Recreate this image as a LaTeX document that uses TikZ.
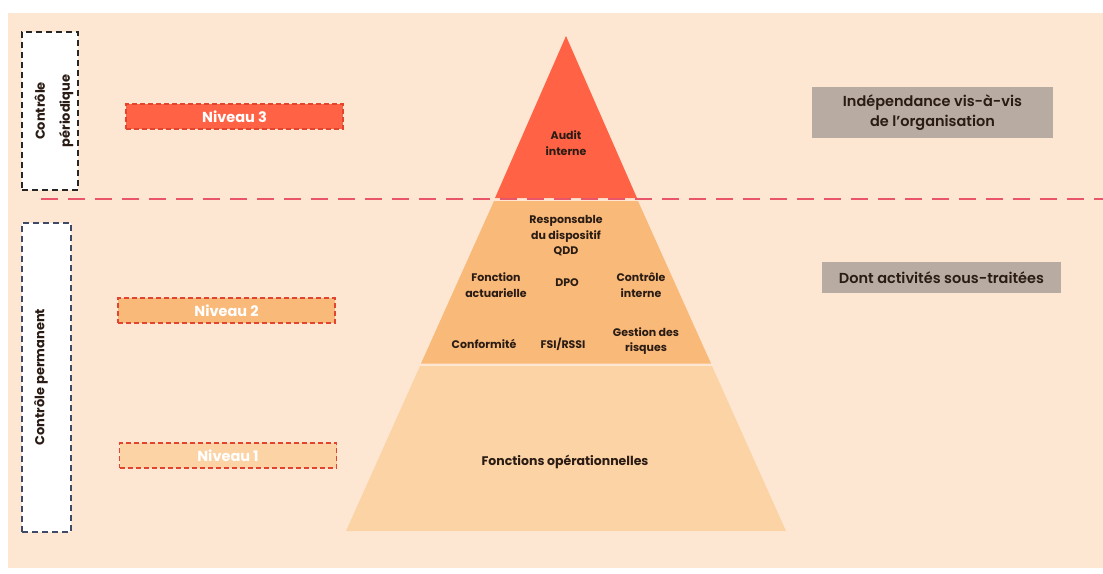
\documentclass[tikz,border=0pt]{standalone}
\usepackage{fontspec}
\setmainfont{Poppins}
\newfontfamily\popsemi{Poppins SemiBold}
\definecolor{peach}{HTML}{FDE7D3}
\definecolor{topc}{HTML}{FF6245}
\definecolor{midc}{HTML}{F9B979}
\definecolor{lowc}{HTML}{FCD3A5}
\definecolor{sepred}{HTML}{E9566A}
\definecolor{boxred}{HTML}{E2452E}
\definecolor{greyc}{HTML}{B7ABA2}
\definecolor{ink}{HTML}{2A1C14}
\definecolor{navy}{HTML}{3E4A66}
\begin{document}
\begin{tikzpicture}[x=1pt,y=-1pt,
  lvl/.style={draw=boxred,dashed,dash pattern=on 5pt off 3pt,line width=1.3pt,minimum width=217pt,minimum height=25pt,inner sep=0pt,text=white,font=\fontsize{14.5}{16}\selectfont\bfseries},
  ctrl/.style={draw,dash pattern=on 6pt off 4pt,line width=1.5pt,fill=white,inner sep=0pt},
  ptext/.style={text=ink,font=\fontsize{11}{15.5}\selectfont\bfseries,align=center,inner sep=0pt},
  grey/.style={fill=greyc,text=ink,font=\fontsize{14.5}{20}\selectfont\popsemi,align=center,inner sep=0pt}]
\useasboundingbox (0,0) rectangle (1103,573);
\fill[white] (0,0) rectangle (1103,573);
\fill[peach] (8,13) rectangle (1103,568);
% control boxes
\node[ctrl,draw=black!85,minimum width=56pt,minimum height=158pt] (cp) at (50,111) {};
\node[rotate=90,align=center,font=\fontsize{13}{25}\selectfont\bfseries,text=ink] (cpt) at (54,111) {Contrôle\\périodique};
\node[ctrl,draw=navy,minimum width=49pt,minimum height=309pt] (cm) at (46.5,377.5) {};
\node[rotate=90,font=\fontsize{13}{16}\selectfont\bfseries,text=ink] (cmt) at (41,377) {Contrôle permanent};
% levels
\node[lvl,fill=topc] (n3) at (234.5,116.5) {Niveau 3};
\node[lvl,fill=midc] (n2) at (226.5,310.5) {Niveau 2};
\node[lvl,fill=lowc] (n1) at (228,455.5) {Niveau 1};
% pyramid
\coordinate (apex) at (566,36);
\fill[topc] (apex) -- (637,198) -- (495,198) -- cycle;
\fill[midc] (494,201) -- (638,201) -- (711,363.5) -- (421,363.5) -- cycle;
\fill[lowc] (420,366) -- (712,366) -- (786,531) -- (346,531) -- cycle;
% separator
\coordinate (sepL) at (41,199);
\coordinate (sepR) at (1103,199);
\draw[sepred,line width=2.5pt,dash pattern=on 17pt off 10pt] (sepL) -- (sepR);
% pyramid texts
\node[ptext] (audit) at (566,143) {Audit\\interne};
\node[ptext] (qdd) at (566,236) {Responsable\\du dispositif\\QDD};
\node[ptext] (fa) at (496,285) {Fonction\\actuarielle};
\node[ptext] (dpo) at (567,283) {DPO};
\node[ptext] (ci) at (641,285) {Contrôle\\interne};
\node[ptext] (conf) at (484,344) {Conformité};
\node[ptext] (fsi) at (563,344) {FSI/RSSI};
\node[ptext] (gdr) at (646,341) {Gestion des\\risques};
\node[ptext,font=\fontsize{12.5}{15}\selectfont\bfseries] (fo) at (565,462) {Fonctions opérationnelles};
% grey boxes
\node[grey,minimum width=241pt,minimum height=51pt] (ind) at (932.5,112.5) {Indépendance vis-à-vis\\de l’organisation};
\node[grey,minimum width=239pt,minimum height=31pt] (dont) at (941.5,277.5) {Dont activités sous-traitées};
\end{tikzpicture}
\end{document}
